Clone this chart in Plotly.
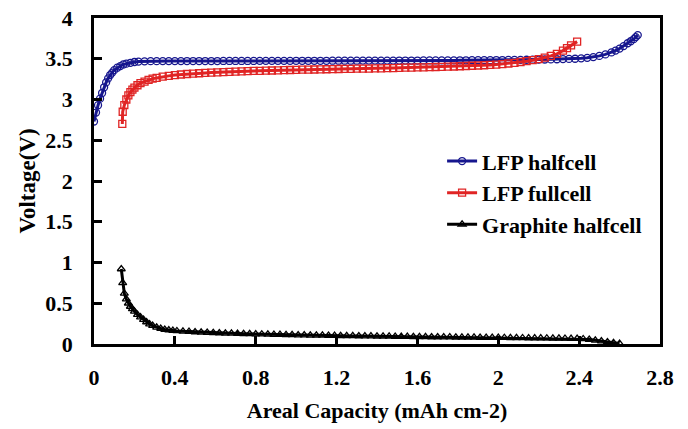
import plotly.graph_objects as go

# ---------------- data ----------------
lfp_half_cap = [0.00, 0.01, 0.02, 0.03, 0.04, 0.05, 0.06, 0.07, 0.08, 0.09,
                0.10, 0.115, 0.13, 0.145, 0.16, 0.18, 0.20, 0.22, 0.25,
                0.28, 0.31, 0.34, 0.37, 0.40, 0.43, 0.46, 0.49, 0.52, 0.55,
                0.58, 0.61, 0.64, 0.67, 0.70, 0.73, 0.76, 0.79, 0.82, 0.85,
                0.88, 0.91, 0.94, 0.97, 1.00, 1.03, 1.06, 1.09, 1.12, 1.15,
                1.18, 1.21, 1.24, 1.27, 1.30, 1.33, 1.36, 1.39, 1.42, 1.45,
                1.48, 1.51, 1.54, 1.57, 1.60, 1.63, 1.66, 1.69, 1.72, 1.75,
                1.78, 1.81, 1.84, 1.87, 1.90, 1.93, 1.96, 1.99, 2.02, 2.05,
                2.08, 2.11, 2.14, 2.17, 2.20, 2.23, 2.26, 2.29, 2.32, 2.35,
                2.38, 2.41, 2.44, 2.47, 2.50, 2.53, 2.56, 2.58, 2.60, 2.62,
                2.64, 2.655, 2.67, 2.68, 2.69]
lfp_half_volt = [2.73, 2.84, 2.93, 3.01, 3.08, 3.15, 3.21, 3.26, 3.30, 3.33,
                 3.36, 3.39, 3.41, 3.43, 3.44, 3.45, 3.46, 3.465, 3.468,
                 3.470, 3.470, 3.471, 3.471, 3.471, 3.471, 3.472, 3.472, 3.472, 3.472,
                 3.472, 3.472, 3.473, 3.473, 3.473, 3.473, 3.473, 3.473, 3.474, 3.474,
                 3.474, 3.474, 3.474, 3.474, 3.475, 3.475, 3.475, 3.475, 3.475, 3.475,
                 3.476, 3.476, 3.476, 3.476, 3.476, 3.477, 3.477, 3.477, 3.477, 3.477,
                 3.477, 3.478, 3.478, 3.478, 3.478, 3.479, 3.479, 3.479, 3.480, 3.480,
                 3.480, 3.481, 3.481, 3.482, 3.482, 3.483, 3.483, 3.484, 3.484, 3.485,
                 3.486, 3.487, 3.488, 3.489, 3.490, 3.491, 3.492, 3.494, 3.496, 3.498,
                 3.500, 3.505, 3.511, 3.520, 3.535, 3.553, 3.578, 3.600, 3.625, 3.655,
                 3.69, 3.715, 3.74, 3.765, 3.79]

lfp_full_cap = [0.140, 0.142, 0.150, 0.160, 0.170, 0.180, 0.190, 0.200, 0.215, 0.230,
                0.250, 0.270, 0.290, 0.310, 0.340, 0.370, 0.400, 0.430, 0.460, 0.490,
                0.52, 0.55, 0.58, 0.61, 0.64, 0.67, 0.70, 0.73, 0.76, 0.79,
                0.82, 0.85, 0.88, 0.91, 0.94, 0.97, 1.00, 1.03, 1.06, 1.09,
                1.12, 1.15, 1.18, 1.21, 1.24, 1.27, 1.30, 1.33, 1.36, 1.39,
                1.42, 1.45, 1.48, 1.51, 1.54, 1.57, 1.60, 1.63, 1.66, 1.69,
                1.72, 1.75, 1.78, 1.81, 1.84, 1.87, 1.90, 1.93, 1.96, 1.99,
                2.02, 2.05, 2.08, 2.11, 2.14, 2.17, 2.20, 2.23, 2.26, 2.29,
                2.32, 2.34, 2.36, 2.39]
lfp_full_volt = [2.70, 2.85, 2.93, 3.00, 3.05, 3.09, 3.12, 3.145, 3.175, 3.20,
                 3.22, 3.24, 3.255, 3.265, 3.28, 3.29, 3.30, 3.307, 3.313, 3.318,
                 3.322, 3.326, 3.330, 3.334, 3.337, 3.340, 3.343, 3.346, 3.348, 3.350,
                 3.352, 3.354, 3.356, 3.358, 3.360, 3.362, 3.364, 3.366, 3.367, 3.368,
                 3.370, 3.371, 3.372, 3.374, 3.375, 3.376, 3.378, 3.379, 3.380, 3.382,
                 3.383, 3.385, 3.386, 3.388, 3.390, 3.391, 3.393, 3.395, 3.397, 3.399,
                 3.401, 3.403, 3.405, 3.408, 3.411, 3.414, 3.417, 3.420, 3.424, 3.428,
                 3.435, 3.442, 3.450, 3.460, 3.470, 3.482, 3.496, 3.515, 3.535, 3.560,
                 3.600, 3.630, 3.665, 3.710]

graphite_cap = [0.135, 0.142, 0.150, 0.160, 0.170, 0.180, 0.190, 0.200, 0.215, 0.230,
                0.245, 0.260, 0.275, 0.290, 0.310, 0.330, 0.350, 0.370, 0.390, 0.410,
                0.44, 0.47, 0.50, 0.53, 0.56, 0.59, 0.62, 0.65, 0.68, 0.71,
                0.74, 0.77, 0.80, 0.83, 0.86, 0.89, 0.92, 0.95, 0.98, 1.01,
                1.04, 1.07, 1.10, 1.13, 1.16, 1.19, 1.22, 1.25, 1.28, 1.31,
                1.34, 1.37, 1.40, 1.43, 1.46, 1.49, 1.52, 1.55, 1.58, 1.61,
                1.64, 1.67, 1.70, 1.73, 1.76, 1.79, 1.82, 1.85, 1.88, 1.91,
                1.94, 1.97, 2.00, 2.03, 2.06, 2.09, 2.12, 2.15, 2.18, 2.21,
                2.24, 2.27, 2.30, 2.33, 2.36, 2.39, 2.42, 2.45, 2.48, 2.51,
                2.54, 2.57, 2.60]
graphite_volt = [0.92, 0.75, 0.62, 0.55, 0.50, 0.46, 0.43, 0.40, 0.36, 0.33,
                 0.30, 0.27, 0.245, 0.225, 0.205, 0.19, 0.178, 0.17, 0.165, 0.160,
                 0.155, 0.151, 0.147, 0.144, 0.141, 0.138, 0.135, 0.132, 0.130, 0.128,
                 0.126, 0.124, 0.122, 0.120, 0.118, 0.116, 0.115, 0.113, 0.112, 0.110,
                 0.109, 0.107, 0.106, 0.105, 0.104, 0.102, 0.101, 0.100, 0.099, 0.098,
                 0.097, 0.096, 0.095, 0.094, 0.093, 0.092, 0.091, 0.090, 0.089, 0.088,
                 0.087, 0.086, 0.086, 0.085, 0.084, 0.083, 0.082, 0.082, 0.081, 0.080,
                 0.079, 0.078, 0.078, 0.077, 0.076, 0.075, 0.074, 0.073, 0.073, 0.072,
                 0.071, 0.070, 0.069, 0.068, 0.067, 0.066, 0.062, 0.055, 0.045, 0.035,
                 0.025, 0.015, 0.005]

series_names = ["LFP halfcell", "LFP fullcell", "Graphite halfcell"]
x_ticks = [0, 0.4, 0.8, 1.2, 1.6, 2, 2.4, 2.8]
y_ticks = [0, 0.5, 1, 1.5, 2, 2.5, 3, 3.5, 4]

# ---------------- figure ----------------
FONT = "Liberation Serif, Times New Roman, serif"
BLUE = "#16168e"
RED = "#e02424"
BLACK = "#000000"

fig = go.Figure()
fig.add_trace(go.Scatter(
    x=lfp_half_cap, y=lfp_half_volt, name=series_names[0], mode="lines+markers",
    line=dict(color=BLUE, width=3),
    marker=dict(symbol="circle-open", size=7, color=BLUE, line=dict(width=1.3, color=BLUE)),
))
fig.add_trace(go.Scatter(
    x=lfp_full_cap, y=lfp_full_volt, name=series_names[1], mode="lines+markers",
    line=dict(color=RED, width=3),
    marker=dict(symbol="square-open", size=7, color=RED, line=dict(width=1.3, color=RED)),
))
fig.add_trace(go.Scatter(
    x=graphite_cap, y=graphite_volt, name=series_names[2], mode="lines+markers",
    line=dict(color=BLACK, width=3),
    marker=dict(symbol="triangle-up-open", size=7, color=BLACK, line=dict(width=1.3, color=BLACK)),
))

axis_common = dict(
    showline=True, mirror=True, linecolor="black", linewidth=2.5,
    ticks="inside", ticklen=8, tickwidth=2.5, tickcolor="black",
    showgrid=False, zeroline=False, automargin=False,
    tickfont=dict(family=FONT, size=22, color="black", weight="bold"),
)

fig.update_xaxes(
    range=[0, 2.8], tickvals=x_ticks, ticktext=[str(t) for t in x_ticks],
    ticklabelstandoff=12,
    title=dict(text="Areal Capacity (mAh cm-2)", standoff=14,
               font=dict(family=FONT, size=22, color="black", weight="bold")),
    **axis_common,
)
fig.update_yaxes(
    range=[0, 4], tickvals=y_ticks, ticktext=[("%g" % t) for t in y_ticks],
    ticklabelstandoff=14,
    title=dict(text="Voltage(V)", standoff=4,
               font=dict(family=FONT, size=23, color="black", weight="bold")),
    **axis_common,
)

fig.update_layout(
    width=688, height=429,
    margin=dict(l=94, r=28, t=18, b=85),
    paper_bgcolor="white", plot_bgcolor="white",
    showlegend=True,
    legend=dict(x=0.615, y=0.625, xanchor="left", yanchor="top",
                bgcolor="rgba(0,0,0,0)", borderwidth=0,
                font=dict(family=FONT, size=22, color="black", weight="bold"),
                tracegroupgap=0),
)

fig.write_html("out.html", config={"displayModeBar": False},
               post_script="document.body.style.margin='0px';")
